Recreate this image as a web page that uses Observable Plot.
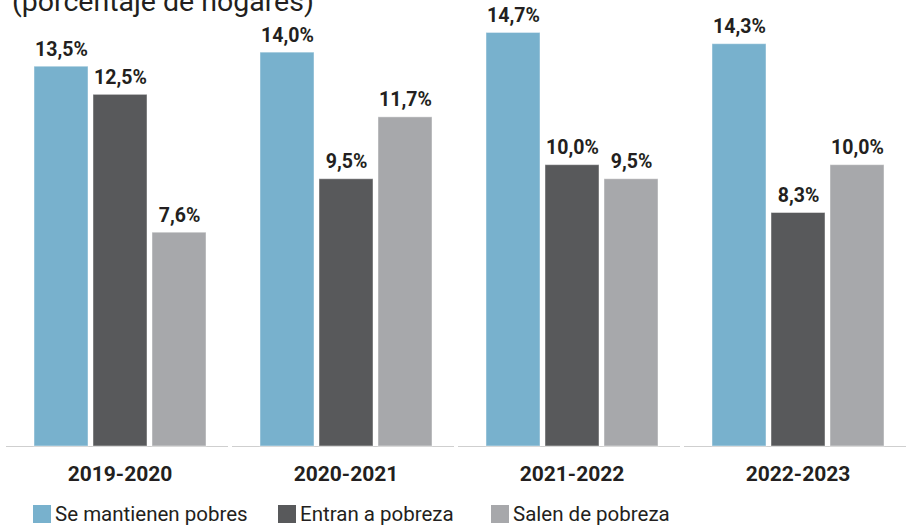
<!DOCTYPE html>
<html>
<head>
<meta charset="utf-8">
<script src="https://cdn.jsdelivr.net/npm/d3@7"></script>
<script src="https://cdn.jsdelivr.net/npm/@observablehq/plot@0.6"></script>
<style>
  html, body { margin: 0; padding: 0; background: white; }
  body { width: 910px; height: 527px; overflow: hidden; position: relative; font-family: Roboto, sans-serif; color: #231f20; }
  #subtitle { position: absolute; left: 12px; top: -15px; font-size: 28.5px; line-height: 34px; white-space: nowrap; color: #231f20; }
  #chart { padding-top: 10px; }
  #legend { display: flex; align-items: center; margin-top: 12px; padding-left: 33px; font-size: 20.5px; line-height: 24px; }
  .item { display: flex; align-items: center; }
  .sw { width: 18px; height: 18px; margin-right: 4px; }
</style>
</head>
<body>
<div id="subtitle">(porcentaje de hogares)</div>
<div id="chart"></div>
<div id="legend"></div>
<script>
const periods = ["2019-2020", "2020-2021", "2021-2022", "2022-2023"];
const series = ["Se mantienen pobres", "Entran a pobreza", "Salen de pobreza"];
const mantienen = [13.5, 14.0, 14.7, 14.3];
const entran = [12.5, 9.5, 10.0, 8.3];
const salen = [7.6, 11.7, 9.5, 10.0];
const colors = ["#78b1cd", "#58595b", "#a7a8ab"];
const legendWidths = [245, 213, 200];

const valuesBySeries = [mantienen, entran, salen];
const data = periods.flatMap((p, i) =>
  series.map((s, j) => ({period: p, series: s, value: valuesBySeries[j][i]}))
);

const fmt = v => v.toFixed(1).replace(".", ",") + "%";

const chart = Plot.plot({
  width: 910,
  height: 480,
  marginTop: 14,
  marginBottom: 44,
  marginLeft: 7,
  marginRight: 0,
  style: {fontFamily: "Roboto, sans-serif", color: "#231f20", background: "white", overflow: "visible"},
  fx: {domain: periods, paddingInner: 0.2355, paddingOuter: 0.115, label: null},
  x: {domain: series, paddingInner: 0.092, paddingOuter: 0, axis: null},
  y: {domain: [0, 15], axis: null},
  color: {domain: series, range: colors},
  marks: [
    Plot.ruleY(periods.map(p => ({period: p, v: 0})), {fx: "period", y: "v", stroke: "#cfcfcf", strokeWidth: 1.2, insetLeft: -27, insetRight: -22}),
    Plot.barY(data, {fx: "period", x: "series", y: "value", fill: "series", stroke: "white", strokeOpacity: 0.45, strokeWidth: 1}),
    Plot.text(data, {fx: "period", x: "series", y: "value", text: d => fmt(d.value), lineAnchor: "bottom", dy: -11, fontWeight: "bold", fontSize: 19.5, fill: "#231f20"}),
    Plot.axisFx({anchor: "bottom", tickSize: 0, tickPadding: 20, fontSize: 21, fontWeight: "bold", label: null, fill: "#231f20"})
  ]
});
document.getElementById("chart").appendChild(chart);

const legend = document.getElementById("legend");
series.forEach((s, i) => {
  const item = document.createElement("div");
  item.className = "item";
  item.style.minWidth = legendWidths[i] + "px";
  const sw = document.createElement("span");
  sw.className = "sw";
  sw.style.background = colors[i];
  const label = document.createElement("span");
  label.textContent = s;
  item.appendChild(sw);
  item.appendChild(label);
  legend.appendChild(item);
});
</script>
</body>
</html>
